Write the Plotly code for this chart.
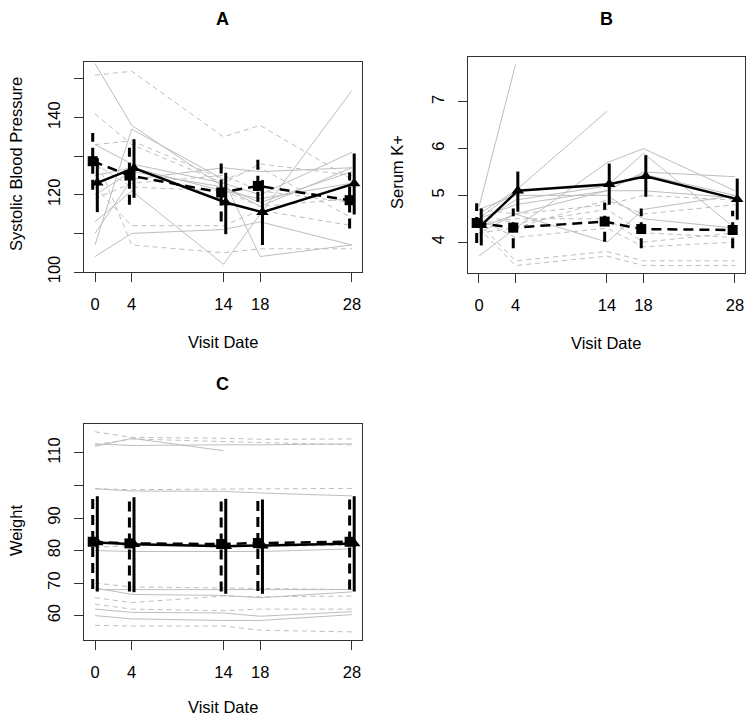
import plotly.graph_objects as go

# the page body keeps its 8px margin, so the figure is drawn 8px in from the corner
PAGE_W, PAGE_H = 754, 725
OFF = 8
W, H = PAGE_W - 2 * OFF, PAGE_H - 2 * OFF

visits = [0, 4, 14, 18, 28]
shift = 0.25  # mean points are nudged left (dashed group) / right (solid group)

# ---- A: systolic blood pressure, individual subjects ----
sbp_solid = [
    [154, 138, 122, 118, 126],
    [104, 110, 111, 113, 107],
    [107, 137, 124, 104, 107],
    [133, 128, 123, 120, 131],
    [113, 121, 102, 115, 147],
    [120, 126, 122, 117, 127],
    [110, 124, 127, 126, 127],
    [125, 127, 121, 119, 123],
]
sbp_dashed = [
    [151, 152, 135, 138, 124],
    [141, 133, 123, 128, 125],
    [130, 107, 105, 106, 106],
    [122, 112, 112, 116, 112],
    [128, 122, 121, 117, 119],
    [119, 123, 125, 121, 118],
    [133, 134, 124, 127, 114],
]
sbp_mean_solid = [123.1, 126.9, 118.0, 115.5, 122.9]
sbp_lo_solid = [115.5, 119.2, 109.8, 107.0, 114.9]
sbp_hi_solid = [129.5, 134.4, 125.7, 123.8, 130.7]
sbp_mean_dashed = [128.7, 125.0, 120.6, 122.3, 118.6]
sbp_lo_dashed = [121.3, 117.4, 113.1, 118.2, 111.3]
sbp_hi_dashed = [136.0, 132.2, 128.2, 129.5, 125.8]

# ---- B: serum potassium ----
k_solid = [
    [4.75, 7.8, None, None, None],
    [4.5, 5.1, 6.8, None, None],
    [3.7, 4.3, 5.7, 6.0, 5.1],
    [4.6, 5.1, 5.2, 5.9, 4.3],
    [4.5, 4.8, 5.1, 5.5, 5.4],
    [4.4, 4.9, 5.2, 5.45, 5.0],
    [4.3, 4.6, 4.0, 4.7, 5.0],
    [4.2, 4.6, 5.1, 5.1, 4.95],
    [4.7, 5.0, 5.0, 4.5, 4.3],
]
k_dashed = [
    [4.4, 3.6, 3.8, 3.6, 3.6],
    [4.3, 3.5, 3.7, 3.5, 3.5],
    [4.5, 4.1, 4.3, 3.9, 4.0],
    [4.6, 4.4, 4.7, 4.2, 4.1],
    [4.2, 4.3, 4.9, 4.6, 4.8],
    [4.7, 4.6, 4.8, 5.0, 4.9],
    [4.4, 4.5, 4.5, 4.0, 4.2],
]
k_mean_solid = [4.36, 5.10, 5.24, 5.41, 4.92]
k_lo_solid = [3.93, 4.65, 4.80, 4.97, 4.48]
k_hi_solid = [4.72, 5.51, 5.68, 5.86, 5.36]
k_mean_dashed = [4.41, 4.31, 4.44, 4.28, 4.26]
k_lo_dashed = [3.98, 3.87, 4.01, 3.87, 3.87]
k_hi_dashed = [4.83, 4.72, 4.85, 4.72, 4.67]

# ---- C: weight ----
wt_solid = [
    [112.0, 114.5, 110.7, None, None],
    [112.8, 112.3, 112.5, 112.5, 112.8],
    [99.0, 98.3, 98.2, 97.7, 96.8],
    [68.5, 66.5, 66.2, 65.5, 67.3],
    [62.0, 61.0, 60.8, 59.8, 61.2],
    [60.0, 59.0, 58.5, 58.5, 60.3],
    [80.0, 79.7, 79.7, 79.7, 80.5],
    [68.0, 68.0, 67.8, 68.0, 68.0],
]
wt_dashed = [
    [116.5, 114.8, 114.5, 114.2, 114.3],
    [112.5, 114.3, 113.5, 113.2, 112.5],
    [99.0, 98.7, 98.9, 99.0, 99.1],
    [70.0, 68.8, 68.5, 68.3, 68.0],
    [65.5, 64.0, 66.0, 65.8, 66.0],
    [63.5, 62.0, 61.5, 62.0, 62.0],
    [57.0, 56.8, 56.8, 55.5, 55.0],
    [81.0, 81.5, 81.5, 81.3, 81.6],
]
wt_mean_solid = [82.5, 81.9, 81.3, 81.5, 82.2]
wt_lo_solid = [67.4, 67.2, 66.7, 66.7, 67.4]
wt_hi_solid = [96.7, 96.4, 95.9, 95.7, 96.7]
wt_mean_dashed = [82.7, 82.2, 82.0, 82.3, 82.7]
wt_lo_dashed = [68.2, 67.4, 67.4, 67.6, 68.0]
wt_hi_dashed = [96.1, 95.3, 95.7, 95.7, 95.7]

FONT = "Liberation Sans, Arial, sans-serif"
GREY = "#bebebe"

fig = go.Figure()


def add_panel(n, solid, dashed, m_s, lo_s, hi_s, m_d, lo_d, hi_d):
    xa = "x" if n == 1 else "x%d" % n
    ya = "y" if n == 1 else "y%d" % n
    for row in dashed:
        fig.add_trace(go.Scatter(x=visits, y=row, xaxis=xa, yaxis=ya, mode="lines",
                                 line=dict(color=GREY, width=1, dash="5px,4px")))
    for row in solid:
        fig.add_trace(go.Scatter(x=visits, y=row, xaxis=xa, yaxis=ya, mode="lines",
                                 line=dict(color=GREY, width=1)))

    xd = [v - shift for v in visits]
    xs = [v + shift for v in visits]

    # error bars drawn as plain vertical segments so they can be dashed
    ex, ey = [], []
    for x, lo, hi in zip(xd, lo_d, hi_d):
        ex += [x, x, None]
        ey += [lo, hi, None]
    fig.add_trace(go.Scatter(x=ex, y=ey, xaxis=xa, yaxis=ya, mode="lines",
                             line=dict(color="black", width=3, dash="10px,6px")))
    ex, ey = [], []
    for x, lo, hi in zip(xs, lo_s, hi_s):
        ex += [x, x, None]
        ey += [lo, hi, None]
    fig.add_trace(go.Scatter(x=ex, y=ey, xaxis=xa, yaxis=ya, mode="lines",
                             line=dict(color="black", width=3)))

    fig.add_trace(go.Scatter(x=xd, y=m_d, xaxis=xa, yaxis=ya, mode="lines+markers",
                             line=dict(color="black", width=2.5, dash="10px,6px"),
                             marker=dict(symbol="square", size=10, color="black")))
    fig.add_trace(go.Scatter(x=xs, y=m_s, xaxis=xa, yaxis=ya, mode="lines+markers",
                             line=dict(color="black", width=2.5),
                             marker=dict(symbol="triangle-up", size=11, color="black")))


add_panel(1, sbp_solid, sbp_dashed, sbp_mean_solid, sbp_lo_solid, sbp_hi_solid,
          sbp_mean_dashed, sbp_lo_dashed, sbp_hi_dashed)
add_panel(2, k_solid, k_dashed, k_mean_solid, k_lo_solid, k_hi_solid,
          k_mean_dashed, k_lo_dashed, k_hi_dashed)
add_panel(3, wt_solid, wt_dashed, wt_mean_solid, wt_lo_solid, wt_hi_solid,
          wt_mean_dashed, wt_lo_dashed, wt_hi_dashed)


# page pixels -> paper fractions
def xdom(left, right):
    return [(left - OFF) / W, (right - OFF) / W]


def ydom(top, bottom):
    return [1 - (bottom - OFF) / H, 1 - (top - OFF) / H]


xaxis_common = dict(range=[-1.2, 29.1], tickvals=visits, ticks="outside", ticklen=9,
                    tickwidth=1, tickcolor="#333", showline=True, mirror=True,
                    linecolor="#333", linewidth=1, showgrid=False, zeroline=False,
                    automargin=False,
                    tickfont=dict(size=16.5, color="black"), ticklabelstandoff=8)
yaxis_common = dict(ticks="outside", ticklen=9, tickwidth=1, tickcolor="#333",
                    showline=True, mirror=True, linecolor="#333", linewidth=1,
                    showgrid=False, zeroline=False, tickangle=-90, automargin=False,
                    tickfont=dict(size=16.5, color="black"), ticklabelstandoff=7)

sbp_ticks = [100, 110, 120, 130, 140, 150]
sbp_text = ["100", "", "120", "", "140", ""]
k_ticks = [4, 5, 6, 7]
wt_ticks = [60, 70, 80, 90, 100, 110]
wt_text = ["60", "70", "80", "90", "", "110"]

fig.update_layout(
    width=W, height=H, showlegend=False,
    paper_bgcolor="white", plot_bgcolor="white",
    margin=dict(l=0, r=0, t=0, b=0, autoexpand=False),
    font=dict(family=FONT, color="black"),
    xaxis=dict(domain=xdom(84, 362), anchor="y", **xaxis_common),
    yaxis=dict(domain=ydom(62, 272), anchor="x", range=[100, 154.4],
               tickvals=sbp_ticks, ticktext=sbp_text, **yaxis_common),
    xaxis2=dict(domain=xdom(468, 745), anchor="y2", **xaxis_common),
    yaxis2=dict(domain=ydom(57, 273), anchor="x2", range=[3.34, 7.96],
                tickvals=k_ticks, ticktext=[str(t) for t in k_ticks], **yaxis_common),
    xaxis3=dict(domain=xdom(84, 362), anchor="y3", **xaxis_common),
    yaxis3=dict(domain=ydom(424, 640), anchor="x3", range=[52.5, 118.9],
                tickvals=wt_ticks, ticktext=wt_text, **yaxis_common),
)


def label(text, x, y, size=16.5, bold=False, angle=0):
    if bold:
        text = "<b>%s</b>" % text
    fig.add_annotation(text=text, x=(x - OFF) / W, y=1 - (y - OFF) / H,
                       xref="paper", yref="paper", borderpad=0,
                       xanchor="center", yanchor="middle", showarrow=False,
                       textangle=angle, font=dict(size=size, family=FONT, color="black"))


label("A", 223, 19, size=18, bold=True)
label("B", 606, 19, size=18, bold=True)
label("C", 223, 384, size=18, bold=True)
label("Visit Date", 223, 342)
label("Visit Date", 606, 343)
label("Visit Date", 223, 707)
label("Systolic Blood Pressure", 16, 164, angle=-90)
label("Serum K+", 397, 172, angle=-90)
label("Weight", 16, 531, angle=-90)

fig.write_html("out.html")
